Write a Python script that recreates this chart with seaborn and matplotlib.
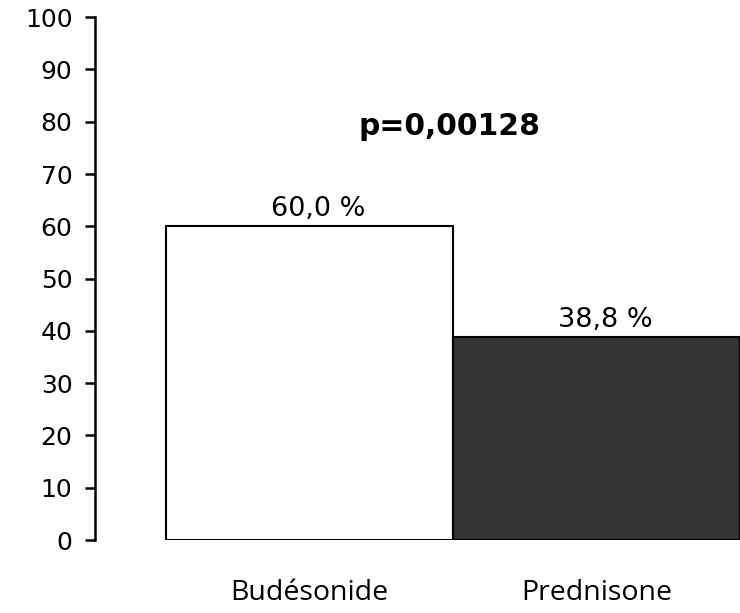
import matplotlib
matplotlib.use('Agg')
import pandas as pd
import seaborn as sns
import matplotlib.pyplot as plt

# Data
traitements = ['Budésonide', 'Prednisone']
pourcentages = [60.0, 38.8]
etiquettes = ['60,0 %', '38,8 %']
p_valeur = 'p=0,00128'
couleurs = ['#ffffff', '#333333']

df = pd.DataFrame({'traitement': traitements, 'pct': pourcentages})

sns.set_style('white')
plt.rcParams['font.family'] = ['DejaVu Sans']
plt.rcParams['text.color'] = 'black'

fig = plt.figure(figsize=(7.4, 6.13), dpi=100)
ax = fig.add_axes([0.128, 0.119, 0.872, 0.853])

sns.barplot(data=df, x='traitement', y='pct', hue='traitement',
            palette=dict(zip(traitements, couleurs)), width=1.0,
            edgecolor='black', linewidth=1.5, legend=False, ax=ax)

ax.set_ylim(0, 100)
ax.set_xlim(-0.747, 1.5)
ax.set_yticks(range(0, 101, 10))
ax.set_xlabel('')
ax.set_ylabel('')

sns.despine(ax=ax, bottom=True, right=True, top=True)
ax.spines['left'].set_linewidth(1.8)
ax.spines['left'].set_color('black')
ax.tick_params(axis='y', direction='out', length=7, width=1.8, colors='black',
               labelsize=18, pad=9, left=True)
ax.tick_params(axis='x', length=0, pad=28, colors='black')
for lab in ax.get_xticklabels():
    lab.set_fontfamily('Open Sans')
    lab.set_fontsize(20.5)

for i, (v, t) in enumerate(zip(pourcentages, etiquettes)):
    ax.text(i + 0.03, v + 0.8, t, ha='center', va='bottom', fontsize=19.5)

ax.text(0.49, 79, p_valeur, ha='center', va='center', fontsize=21.5,
        fontweight='bold')

fig.savefig('out.png', dpi=100)
